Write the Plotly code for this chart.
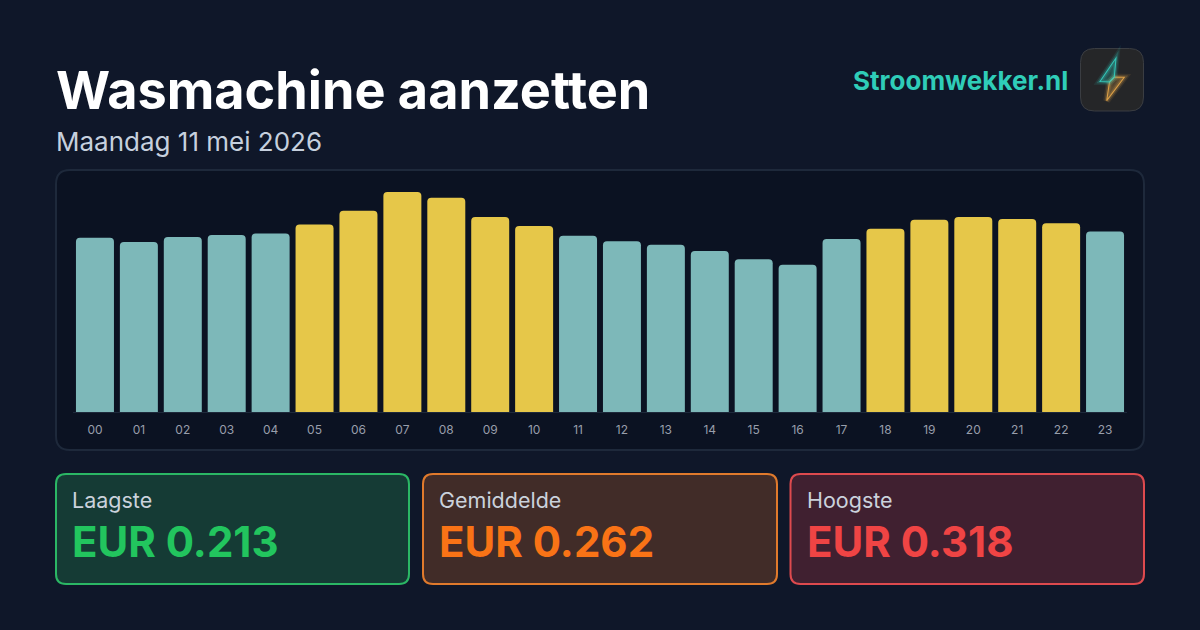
import plotly.graph_objects as go

hours = [f"{h:02d}" for h in range(24)]
prices = [0.252, 0.246, 0.253, 0.256, 0.258, 0.271, 0.291, 0.318, 0.310, 0.282, 0.269, 0.255,
          0.247, 0.242, 0.233, 0.221, 0.213, 0.250, 0.265, 0.278, 0.282, 0.279, 0.273, 0.261]
expensive_hours = ["05", "06", "07", "08", "09", "10", "18", "19", "20", "21", "22"]
card_labels = ["Laagste", "Gemiddelde", "Hoogste"]
card_values = ["EUR 0.213", "EUR 0.262", "EUR 0.318"]
title_text = "Wasmachine aanzetten"
subtitle_text = "Maandag 11 mei 2026"
brand_text = "Stroomwekker.nl"

W, H = 1200, 630
FONT = "Inter"
BG = "#0f1729"
TEAL = "#7db8b9"
YELLOW = "#e6c749"


def px(x):
    return x / W


def py(y):
    return 1 - y / H


def rrect(x0, y0, x1, y1, r):
    a, b, c, d = px(x0), py(y0), px(x1), py(y1)
    rx, ry = r / W, r / H
    return (f"M {a+rx} {b} L {c-rx} {b} Q {c} {b} {c} {b-ry} L {c} {d+ry} Q {c} {d} {c-rx} {d} "
            f"L {a+rx} {d} Q {a} {d} {a} {d+ry} L {a} {b-ry} Q {a} {b} {a+rx} {b} Z")


def poly(points):
    return "M " + " L ".join(f"{px(x)} {py(y)}" for x, y in points) + " Z"


shapes = []


def box(x0, y0, x1, y1, r, fill, line, lw):
    shapes.append(dict(type="path", xref="paper", yref="paper", path=rrect(x0, y0, x1, y1, r),
                       fillcolor=fill, line=dict(color=line, width=lw), layer="below"))


box(56, 170, 1144, 450, 14, "#0b1222", "#1e293b", 2)

cards = [
    (56, 409, "#153b35", "#2bb765", "#22c55e"),
    (423, 777, "#412c28", "#e07a2c", "#f97316"),
    (790.5, 1144, "#402030", "#de4a4e", "#ef4444"),
]
for x0, x1, fill, line, _ in cards:
    box(x0, 474, x1, 584, 10, fill, line, 2)

# logo tile
box(1080.5, 48.5, 1143.5, 111, 14, "#252628", "#3a3d42", 1)
upper = [(1116, 58), (1100, 81.5), (1109.5, 82), (1114.3, 77)]
lower = [(1114.3, 77), (1124.3, 77.3), (1106.7, 100.7), (1109.5, 82)]
for pts, col, fill in ((lower, "#e8a84a", "rgba(200,150,70,0.30)"), (upper, "#35cfc0", "rgba(45,190,175,0.28)")):
    for width, opacity in ((7, 0.10), (4, 0.22), (1.1, 0.9)):
        shapes.append(dict(type="path", xref="paper", yref="paper", path=poly(pts),
                           fillcolor=fill if width < 2 else "rgba(0,0,0,0)",
                           line=dict(color=col, width=width), opacity=opacity, layer="above"))

annotations = []


def label(x, y, text, size, color, weight=400, anchor="left"):
    annotations.append(dict(xref="paper", yref="paper", x=px(x), y=py(y), text=text, showarrow=False,
                            xanchor=anchor, yanchor="middle",
                            font=dict(family=FONT, size=size, color=color, weight=weight)))


label(53.5, 90, title_text, 52.2, "#ffffff", 700)
label(54, 142, subtitle_text, 26, "#c6d0de")
label(1070, 81, brand_text, 26, "#2fcdb8", 700, "right")
for (x0, x1, fill, line, col), name, val in zip(cards, card_labels, card_values):
    label(x0 + 14, 500, name, 21.5, "#cbd2dc")
    label(x0 + 14, 541, val, 42, col, 700)

fig = go.Figure(go.Bar(
    x=hours, y=prices,
    marker=dict(color=[YELLOW if h in expensive_hours else TEAL for h in hours],
                cornerradius=4, line=dict(width=0)),
    hoverinfo="x+y",
))
fig.update_layout(
    width=W, height=H, autosize=False,
    margin=dict(l=0, r=0, t=0, b=0),
    paper_bgcolor=BG, plot_bgcolor="rgba(0,0,0,0)",
    bargap=0.135, showlegend=False,
    shapes=shapes, annotations=annotations,
    font=dict(family=FONT),
)
fig.update_xaxes(domain=[px(73), px(1127)], type="category", tickmode="array",
                 tickvals=hours, ticktext=hours, showgrid=False, zeroline=False,
                 showline=True, linecolor="#1e293b", linewidth=1, ticks="",
                 tickfont=dict(family=FONT, size=12, color="#989eab"), ticklabelstandoff=7)
fig.update_yaxes(domain=[py(412), py(177)], range=[0, 235 / 691.5], visible=False, fixedrange=True)

fig.write_html("out.html", config={"displayModeBar": False},
               post_script="document.body.style.margin='0';document.body.style.background='%s';" % BG)
